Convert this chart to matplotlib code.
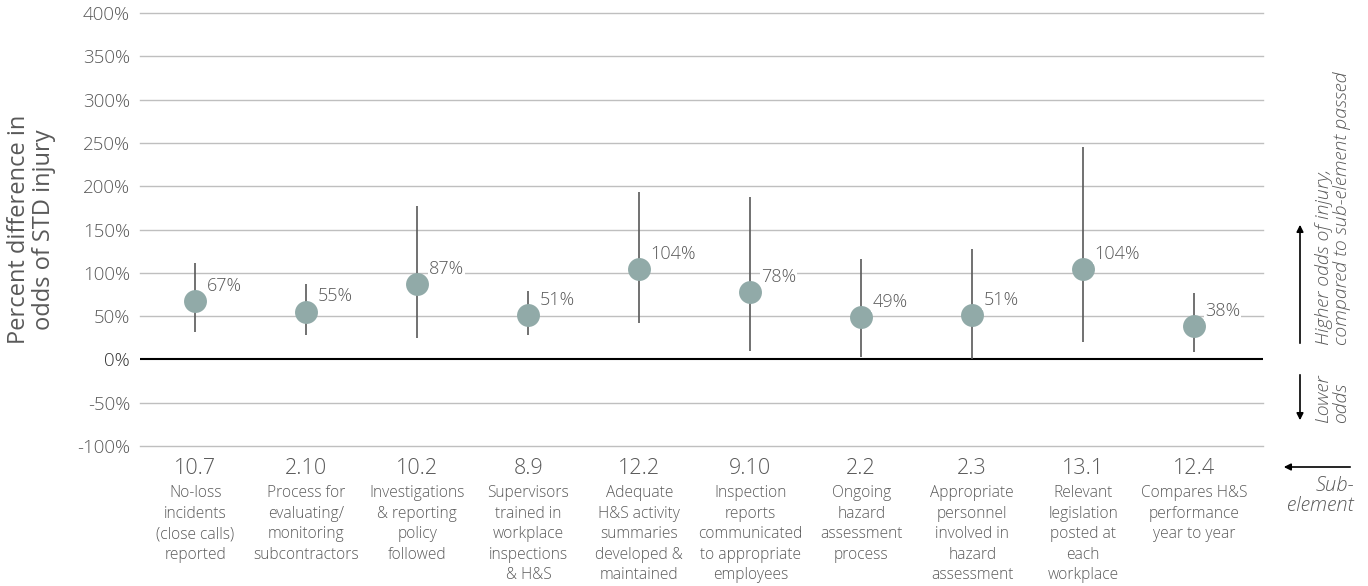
import numpy as np
import matplotlib
matplotlib.use('Agg')
import matplotlib.pyplot as plt
import matplotlib.transforms as mtransforms

plt.rcParams['font.family'] = ['Open Sans', 'DejaVu Sans']
plt.rcParams['font.weight'] = 'light'

codes = ['10.7', '2.10', '10.2', '8.9', '12.2', '9.10', '2.2', '2.3', '13.1', '12.4']
descriptions = [
    'No-loss\nincidents\n(close calls)\nreported',
    'Process for\nevaluating/\nmonitoring\nsubcontractors',
    'Investigations\n& reporting\npolicy\nfollowed',
    'Supervisors\ntrained in\nworkplace\ninspections\n& H&S',
    'Adequate\nH&S activity\nsummaries\ndeveloped &\nmaintained',
    'Inspection\nreports\ncommunicated\nto appropriate\nemployees',
    'Ongoing\nhazard\nassessment\nprocess',
    'Appropriate\npersonnel\ninvolved in\nhazard\nassessment',
    'Relevant\nlegislation\nposted at\neach\nworkplace',
    'Compares H&S\nperformance\nyear to year',
]
estimate = [67, 55, 87, 51, 104, 78, 49, 51, 104, 38]
ci_low = [32, 28, 25, 28, 42, 10, 3, 0, 20, 8]
ci_high = [111, 87, 177, 79, 193, 188, 116, 128, 245, 77]
yticks = [-100, -50, 0, 50, 100, 150, 200, 250, 300, 350, 400]

grey_text = '#595959'
dot_color = '#91AAA8'

fig = plt.figure(figsize=(13.68, 5.86), dpi=100)
ax = fig.add_axes([0.1023, 0.2389, 0.8209, 0.7389])

x = np.arange(len(codes))
est = np.array(estimate)
ax.vlines(x, ci_low, ci_high, color='#595959', lw=1.2, zorder=3)
ax.plot(x, est, 'o', ms=16.5, color=dot_color, mec='none', zorder=4)

for xi, v in zip(x, est):
    ax.annotate(f'{v}%', (xi, v), xytext=(8, 11), textcoords='offset points',
                ha='left', va='center', fontsize=13, color=grey_text,
                bbox=dict(boxstyle='square,pad=0.05', fc='white', ec='none'),
                zorder=5)

ax.set_xlim(-0.5, 9.62)
ax.set_ylim(-100, 400)
ax.set_yticks(yticks)
ax.set_yticklabels([f'{t}%' for t in yticks], fontsize=13.5, color=grey_text)
ax.get_yticklabels()[2].set_color('#333333')
ax.tick_params(axis='y', length=0, pad=7)
ax.set_xticks([])
for t in yticks:
    if t != 0:
        ax.axhline(t, color='#bfbfbf', lw=1.0, zorder=1, clip_on=False)
ax.axhline(0, color='black', lw=1.5, zorder=2)
for s in ax.spines.values():
    s.set_visible(False)

ax.set_ylabel('Percent difference in\nodds of STD injury', fontsize=17,
              color=grey_text, labelpad=15, linespacing=1.05)

trans = mtransforms.blended_transform_factory(ax.transData, ax.transAxes)
for xi, c, d in zip(x, codes, descriptions):
    ax.text(xi, -0.053, c, transform=trans, ha='center', va='center',
            fontsize=15.5, color=grey_text)
    ax.text(xi, -0.091, d, transform=trans, ha='center', va='top',
            fontsize=11.2, color=grey_text, linespacing=1.37)

# right side annotations
ax2 = fig.add_axes([0, 0, 1, 1], facecolor='none')
ax2.set_xlim(0, 1368)
ax2.set_ylim(586, 0)
ax2.axis('off')
ax2.annotate('', xy=(1300, 222), xytext=(1300, 346),
             arrowprops=dict(arrowstyle='-|>', color='black', lw=1.2,
                             mutation_scale=10))
ax2.annotate('', xy=(1300, 423), xytext=(1300, 372),
             arrowprops=dict(arrowstyle='-|>', color='black', lw=1.2,
                             mutation_scale=10))
ax2.annotate('', xy=(1281, 467), xytext=(1353, 467),
             arrowprops=dict(arrowstyle='-|>', color='black', lw=1.2,
                             mutation_scale=10))
ax2.text(1333, 345, 'Higher odds of injury,\ncompared to sub-element passed',
         rotation=90, ha='center', va='bottom', fontsize=14,
         style='italic', color=grey_text, linespacing=1.0,
         multialignment='left')
ax2.text(1332, 423, 'Lower\nodds', rotation=90, ha='center', va='bottom',
         fontsize=14, style='italic', color=grey_text, linespacing=1.0,
         multialignment='left')
ax2.text(1354, 496, 'Sub-\nelement', ha='right', va='center', fontsize=14.5,
         style='italic', color=grey_text, linespacing=0.95, multialignment='right')

fig.savefig('out.png', dpi=100)
